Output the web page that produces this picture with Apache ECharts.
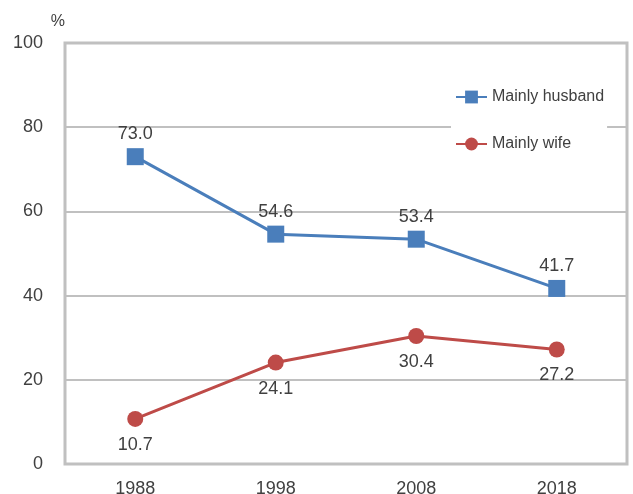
<!DOCTYPE html>
<html>
<head>
<meta charset="utf-8">
<script src="https://cdn.jsdelivr.net/npm/echarts@6/dist/echarts.min.js"></script>
<style>
  html, body { margin: 0; padding: 0; background: #fff; }
  #chart { width: 633px; height: 494px; }
</style>
</head>
<body>
<div id="chart"></div>
<script>
// values
const years = ['1988', '1998', '2008', '2018']
const husband = [73.0, 54.6, 53.4, 41.7]
const wife = [10.7, 24.1, 30.4, 27.2]
const yTicks = [0, 20, 40, 60, 80, 100]

const txt = '#404040'
const font = '"Liberation Sans", Arial, sans-serif'

const chart = echarts.init(document.getElementById('chart'))

chart.setOption({
  animation: false,
  textStyle: { fontFamily: font },
  grid: {
    left: 65,
    right: 6,
    top: 43,
    bottom: 30,
    outerBoundsMode: 'none',
    show: true,
    borderColor: '#c0c0c0',
    borderWidth: 3
  },
  legend: {
    orient: 'vertical',
    left: 451,
    top: 83,
    itemWidth: 31,
    itemHeight: 16,
    itemGap: 31,
    padding: [6, 3, 6, 4],
    backgroundColor: '#fff',
    textStyle: { color: txt, fontSize: 16, fontFamily: font },
    data: ['Mainly husband', 'Mainly wife']
  },
  xAxis: {
    type: 'category',
    data: years,
    axisLine: { show: false },
    axisTick: { show: false },
    axisLabel: { color: txt, fontSize: 18, margin: 16 }
  },
  yAxis: {
    type: 'value',
    min: yTicks[0],
    max: yTicks[yTicks.length - 1],
    interval: 20,
    name: '%',
    nameGap: 13,
    nameTextStyle: { color: txt, fontSize: 16, align: 'right' },
    axisLine: { show: false },
    axisTick: { show: false },
    axisLabel: { color: txt, fontSize: 18, margin: 22 },
    splitLine: { lineStyle: { color: '#c0c0c0', width: 2 } }
  },
  series: [
    {
      name: 'Mainly husband',
      type: 'line',
      data: husband,
      symbol: 'rect',
      symbolSize: 17,
      itemStyle: { color: '#4a7ebb' },
      lineStyle: { width: 3, color: '#4a7ebb' },
      label: {
        show: true,
        position: 'top',
        distance: 5,
        color: txt,
        fontSize: 18,
        formatter: p => p.value.toFixed(1)
      }
    },
    {
      name: 'Mainly wife',
      type: 'line',
      data: wife,
      symbol: 'circle',
      symbolSize: 16,
      itemStyle: { color: '#be4b48' },
      lineStyle: { width: 3, color: '#be4b48' },
      label: {
        show: true,
        position: 'bottom',
        distance: 9,
        color: txt,
        fontSize: 18,
        formatter: p => p.value.toFixed(1)
      }
    }
  ]
})
</script>
</body>
</html>
